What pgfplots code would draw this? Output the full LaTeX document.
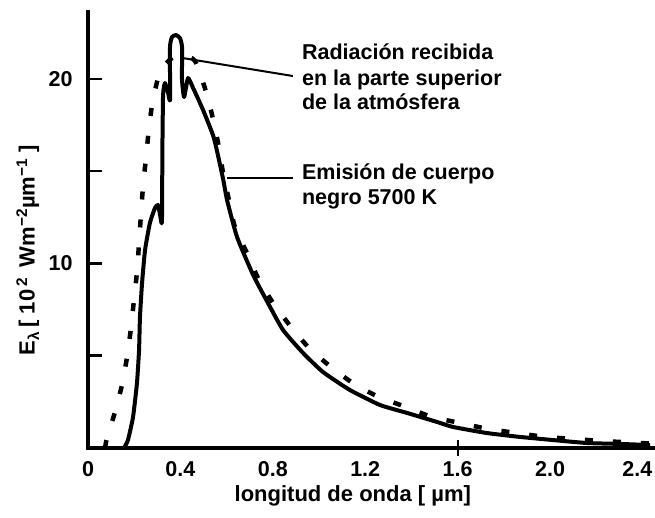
\documentclass[border=0pt]{standalone}
\usepackage{fontspec}
\setmainfont{Liberation Sans}
\usepackage{pgfplots}
\pgfplotsset{compat=1.18}
\begin{document}
\begin{tikzpicture}
\path[use as bounding box] (-88pt,-70pt) rectangle (567pt,448pt);
\begin{axis}[
  scale only axis, width=567pt, height=436pt,
  xmin=0, xmax=2.4545, ymin=0, ymax=23.63,
  axis x line=bottom, axis y line=left,
  axis line style={-, line width=4pt, line cap=rect},
  xtick={0,0.4,0.8,1.2,1.6,2.0},
  xticklabels={0,0.4,0.8,1.2,1.6,2.0},
  xtick style={draw=none},
  extra x ticks={2.4}, extra x tick labels={2.4},
  extra x tick style={xticklabel style={xshift=-5pt}},
  ytick={5,10,15,20}, yticklabels={,10,,20},
  tick align=inside, major tick length=14pt,
  ytick style={line width=2.5pt, black},
  /pgf/number format/assume math mode=true,
  tick label style={font=\bfseries\fontsize{21.5}{25}\selectfont},
  yticklabel style={xshift=-12pt},
  xticklabel style={yshift=-10pt},
  clip=false,
  xlabel={longitud de onda [\;µm]},
  ylabel={E\textsubscript{λ}\,[ 10\,\textsuperscript{2}\, Wm\textsuperscript{−2}µm\textsuperscript{−1} ]},
  label style={font=\bfseries\fontsize{22}{26}\selectfont},
  xlabel style={at={(axis description cs:0.467,-0.11)}, anchor=center},
  ylabel style={at={(axis description cs:-0.106,0.454)}, anchor=center},
]
% Black body emission 5700 K (dotted)
\addplot[black, line width=4.5pt, dash pattern=on 8pt off 20pt, smooth, tension=0.4] coordinates {
(0.074,0) (0.082,0.54) (0.117,1.95) (0.147,3.41) (0.169,4.93) (0.186,6.50) (0.199,8.02)
(0.212,9.54) (0.221,11.11) (0.229,12.63) (0.238,14.15) (0.251,15.72) (0.264,17.34)
(0.281,18.86) (0.312,20.38) (0.36,21.1) (0.41,21.3) (0.463,20.98) (0.506,19.51)
(0.537,18.05) (0.563,16.53) (0.584,14.96) (0.610,13.44) (0.636,11.98) (0.688,10.57)
(0.736,9.21) (0.801,7.86) (0.879,6.56) (0.957,5.42) (1.052,4.39) (1.152,3.47)
(1.260,2.76) (1.377,2.22) (1.489,1.68) (1.610,1.36) (1.732,1.03) (1.857,0.81)
(1.978,0.60) (2.100,0.49) (2.225,0.38) (2.390,0.27) (2.45,0.24)
};
% Radiation at top of atmosphere (solid)
\addplot[black, line width=4pt, line join=round, smooth, tension=0.3] coordinates {
(0.156,0) (0.173,0.43) (0.195,1.68) (0.212,3.52) (0.221,5.31) (0.225,7.10) (0.234,8.94)
(0.247,10.73) (0.268,12.20) (0.290,13.01) (0.303,13.17) (0.312,12.63) (0.320,12.25)
(0.322,16.15) (0.325,19.13) (0.333,19.78) (0.346,19.30) (0.355,18.86) (0.355,21.73)
(0.364,22.28) (0.381,22.38) (0.398,22.22) (0.407,21.73) (0.407,19.95) (0.416,19.02)
(0.433,20.05) (0.455,19.51) (0.498,18.32) (0.545,16.8) (0.584,14.63) (0.602,13.44)
(0.645,11.44) (0.714,9.4) (0.775,7.95) (0.844,6.40) (0.931,5.15) (1.017,4.12)
(1.134,3.14) (1.264,2.33) (1.381,1.90) (1.511,1.41) (1.580,1.14) (1.727,0.81)
(1.870,0.60) (2.013,0.43) (2.160,0.27) (2.303,0.22) (2.433,0.16)
};
% tick mark at 1.6
\draw[line width=2pt] (axis cs:1.6,-0.45) -- (axis cs:1.6,0.45);
% annotations
\draw[line width=2pt] (axis cs:0.407,21.14) -- (axis cs:0.887,20.16);
\draw[line width=2.5pt] (axis cs:0.602,14.63) -- (axis cs:0.887,14.63);
\node[anchor=base west, inner sep=0pt, font=\bfseries\fontsize{21.5}{25}\selectfont] at (axis cs:0.926,21.03) {Radiación recibida};
\node[anchor=base west, inner sep=0pt, font=\bfseries\fontsize{21.5}{25}\selectfont] at (axis cs:0.926,19.67) {en la parte superior};
\node[anchor=base west, inner sep=0pt, font=\bfseries\fontsize{21.5}{25}\selectfont] at (axis cs:0.926,18.32) {de la atmósfera};
\node[anchor=base west, inner sep=0pt, font=\bfseries\fontsize{21.5}{25}\selectfont] at (axis cs:0.926,14.53) {Emisión de cuerpo};
\node[anchor=base west, inner sep=0pt, font=\bfseries\fontsize{21.5}{25}\selectfont] at (axis cs:0.926,13.17) {negro 5700 K};
\end{axis}
\end{tikzpicture}
\end{document}
